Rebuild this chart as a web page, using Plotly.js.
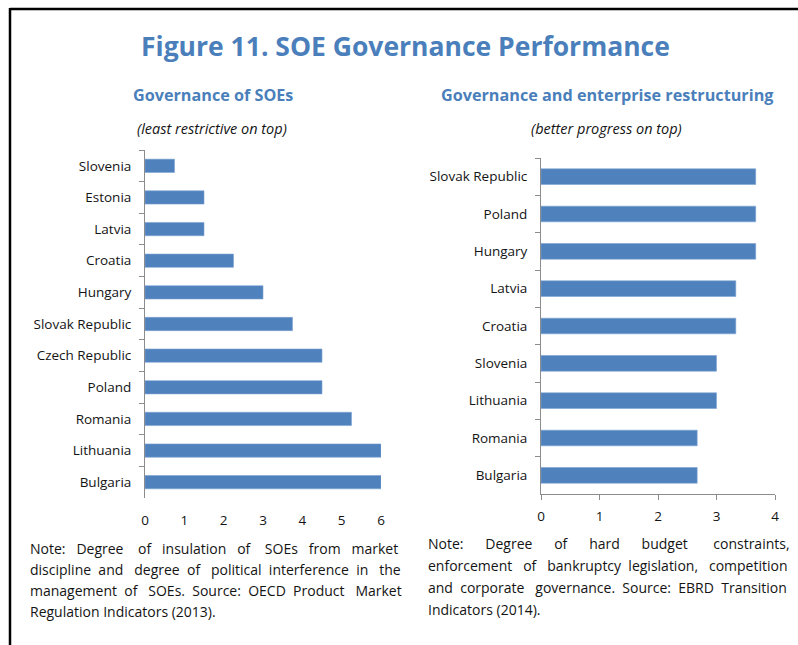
<!DOCTYPE html>
<html>
<head>
<meta charset="utf-8">
<script src="https://cdn.plot.ly/plotly-3.0.1.min.js"></script>
<style>html,body{margin:0;padding:0;background:#fff;}#chart{width:798px;height:645px;}</style>
</head>
<body>
<div id="chart"></div>
<script>
// ---- data ----
const leftCountries = ["Slovenia","Estonia","Latvia","Croatia","Hungary","Slovak Republic","Czech Republic","Poland","Romania","Lithuania","Bulgaria"];
const leftValues = [0.75,1.5,1.5,2.25,3.0,3.75,4.5,4.5,5.25,6.0,6.0];
const rightCountries = ["Slovak Republic","Poland","Hungary","Latvia","Croatia","Slovenia","Lithuania","Romania","Bulgaria"];
const rightValues = [3.67,3.67,3.67,3.33,3.33,3.0,3.0,2.67,2.67];
const leftTicks = [0,1,2,3,4,5,6];
const rightTicks = [0,1,2,3,4];
const mainTitle = "Figure 11. SOE Governance Performance";
const leftTitle = "Governance of SOEs";
const leftSub = "(least restrictive on top)";
const rightTitle = "Governance and enterprise restructuring";
const rightSub = "(better progress on top)";
const leftNoteLines = [
  "Note: Degree of insulation of SOEs from market",
  "discipline and degree of political interference in the",
  "management of SOEs. Source: OECD Product Market",
  "Regulation Indicators (2013)."
];
const rightNoteLines = [
  "Note: Degree of hard budget constraints,",
  "enforcement of bankruptcy legislation, competition",
  "and corporate governance. Source: EBRD Transition",
  "Indicators (2014)."
];

// ---- helpers ----
const W = 798, H = 645;
const px = x => x / W;
const py = y => 1 - y / H;
const FONT = "Open Sans, Noto Sans, sans-serif";
const BLUE = "#4a7fbb";
const BAR = "#4f81bd";
const AX = "#8c8c8c";
const TXT = "#141414";
const NOTE_SIZE = 14;

const ctx = document.createElement("canvas").getContext("2d");
function justifyLine(line, width, size, isLast) {
  ctx.font = size + "px 'Open Sans'";
  const nb = ctx.measureText("\u00A0").width || size * 0.26;
  const words = line.split(" ");
  if (isLast || words.length < 2) return line;
  const wid = words.map(w => ctx.measureText(w).width);
  const total = wid.reduce((s, w) => s + w, 0);
  const gap = (width - total) / (words.length - 1);
  let out = words[0], acc = wid[0], pos = wid[0];
  for (let k = 1; k < words.length; k++) {
    const target = acc + gap * k;
    const n = Math.max(1, Math.round((target - pos) / nb));
    out += "\u00A0".repeat(n) + words[k];
    pos += n * nb + wid[k];
    acc += wid[k];
  }
  return out;
}
function noteAnnotations(lines, x, width, y0, dy) {
  return lines.map((l, i) => ({
    text: justifyLine(l, width, NOTE_SIZE, i === lines.length - 1),
    xref:"paper", yref:"paper", x:px(x), y:py(y0 + dy * i), showarrow:false,
    xanchor:"left", yanchor:"middle", align:"left",
    font:{family:FONT, size:NOTE_SIZE, color:TXT}
  }));
}

const traces = [
  {type:"bar", orientation:"h", x:leftValues, y:leftCountries, xaxis:"x", yaxis:"y",
   marker:{color:BAR, line:{color:"#7ea3d3", width:0.6}}, hoverinfo:"x+y"},
  {type:"bar", orientation:"h", x:rightValues, y:rightCountries, xaxis:"x2", yaxis:"y2",
   marker:{color:BAR, line:{color:"#7ea3d3", width:0.6}}, hoverinfo:"x+y"}
];

const tickFont = {family:FONT, size:13.5, color:TXT};
const layout = {
  width:W, height:H, margin:{l:0,r:0,t:0,b:0},
  paper_bgcolor:"#fff", plot_bgcolor:"#fff", showlegend:false,
  bargap:0.58,
  // left chart: labels at bottom, line at top
  xaxis:{domain:[px(145),px(381)], range:[0,6], tickvals:leftTicks, anchor:"y", side:"bottom",
         showline:false, showgrid:false, zeroline:false, ticks:"outside", ticklen:10, tickcolor:"rgba(0,0,0,0)",
         tickfont:tickFont, fixedrange:true},
  xaxis3:{overlaying:"x", range:[0,6], tickvals:leftTicks, anchor:"y", side:"top",
          showline:true, linecolor:AX, linewidth:1, showgrid:false, zeroline:false,
          ticks:"outside", ticklen:5, tickcolor:AX, showticklabels:false},
  yaxis:{domain:[py(498),py(150)], anchor:"x", type:"category", autorange:"reversed",
         showline:true, linecolor:AX, linewidth:1, showgrid:false, ticks:"outside", ticklen:5, tickcolor:AX,
         tickson:"boundaries", tickfont:tickFont, ticklabelstandoff:10},
  // right chart
  xaxis2:{domain:[px(541),px(775)], range:[0,4], tickvals:rightTicks, anchor:"y2", side:"bottom",
          showline:true, linecolor:AX, linewidth:1, showgrid:false, zeroline:false,
          ticks:"outside", ticklen:5, tickcolor:AX, tickfont:tickFont, ticklabelstandoff:5},
  yaxis2:{domain:[py(494),py(158)], anchor:"x2", type:"category", autorange:"reversed",
          showline:true, linecolor:AX, linewidth:1, showgrid:false, ticks:"outside", ticklen:5, tickcolor:AX,
          tickson:"boundaries", tickfont:tickFont, ticklabelstandoff:10},
  annotations:[
    {text:"<b>"+mainTitle+"</b>", xref:"paper", yref:"paper", x:px(405), y:py(46), showarrow:false,
     xanchor:"center", yanchor:"middle", font:{family:FONT, size:26.5, color:BLUE}},
    {text:"<b>"+leftTitle+"</b>", xref:"paper", yref:"paper", x:px(213), y:py(95), showarrow:false,
     xanchor:"center", yanchor:"middle", font:{family:FONT, size:16.2, color:BLUE}},
    {text:"<i>"+leftSub+"</i>", xref:"paper", yref:"paper", x:px(212), y:py(128), showarrow:false,
     xanchor:"center", yanchor:"middle", font:{family:FONT, size:14.5, color:TXT}},
    {text:"<b>"+rightTitle+"</b>", xref:"paper", yref:"paper", x:px(607), y:py(95), showarrow:false,
     xanchor:"center", yanchor:"middle", font:{family:FONT, size:16.2, color:BLUE}},
    {text:"<i>"+rightSub+"</i>", xref:"paper", yref:"paper", x:px(606), y:py(128), showarrow:false,
     xanchor:"center", yanchor:"middle", font:{family:FONT, size:14.5, color:TXT}}
  ].concat(noteAnnotations(leftNoteLines, 28, 370, 548, 21.3))
   .concat(noteAnnotations(rightNoteLines, 426, 360, 543, 22)),
  shapes:[
    {type:"line", xref:"paper", yref:"paper", x0:px(10), x1:1, y0:py(9), y1:py(9), line:{color:"#000", width:2.5}},
    {type:"line", xref:"paper", yref:"paper", x0:px(10), x1:px(10), y0:py(8), y1:0, line:{color:"#000", width:2.5}}
  ]
};

Plotly.newPlot("chart", traces, layout, {displayModeBar:false, staticPlot:true});
</script>
</body>
</html>
